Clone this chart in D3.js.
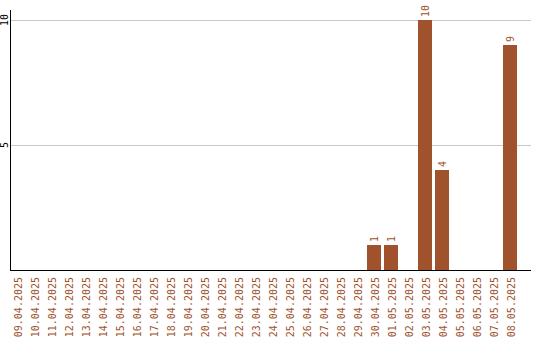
<!DOCTYPE html>
<html>
<head>
<meta charset="utf-8">
<script src="https://cdn.jsdelivr.net/npm/d3@7"></script>
<style>
  body { margin: 0; background: #fff; }
  text { font-family: 'DejaVu Sans Mono', monospace; font-size: 10px; }
</style>
</head>
<body>
<div id="chart"></div>
<script>
const dates = ['09.04.2025', '10.04.2025', '11.04.2025', '12.04.2025', '13.04.2025',
  '14.04.2025', '15.04.2025', '16.04.2025', '17.04.2025', '18.04.2025', '19.04.2025',
  '20.04.2025', '21.04.2025', '22.04.2025', '23.04.2025', '24.04.2025', '25.04.2025',
  '26.04.2025', '27.04.2025', '28.04.2025', '29.04.2025', '30.04.2025', '01.05.2025',
  '02.05.2025', '03.05.2025', '04.05.2025', '05.05.2025', '06.05.2025', '07.05.2025',
  '08.05.2025']
const counts = [0, 0, 0, 0, 0, 0, 0, 0, 0, 0, 0, 0, 0, 0, 0, 0, 0, 0, 0, 0, 0,
  1, 1, 0, 10, 4, 0, 0, 0, 9]
const yTicks = [5, 10]

const width = 540
const height = 340
const color = '#a0522d'

const svg = d3
  .select('#chart')
  .append('svg')
  .attr('width', width)
  .attr('height', height)

const x = d3.scaleBand().domain(dates).range([10, 520]).padding(0)
const y = d3.scaleLinear().domain([0, 10]).range([270, 20])

// grid
svg
  .selectAll('.grid')
  .data(yTicks)
  .enter()
  .append('line')
  .attr('x1', 10)
  .attr('x2', 531)
  .attr('y1', d => Math.round(y(d)) + 0.5)
  .attr('y2', d => Math.round(y(d)) + 0.5)
  .attr('stroke', '#c8c8c8')

svg
  .selectAll('.ytick')
  .data(yTicks)
  .enter()
  .append('text')
  .attr('transform', d => 'translate(8,' + y(d) + ') rotate(-90)')
  .attr('text-anchor', 'middle')
  .attr('fill', '#000')
  .text(d => d)

const data = dates.map((d, i) => ({ date: d, value: counts[i] }))

svg
  .selectAll('.bar')
  .data(data.filter(d => d.value > 0))
  .enter()
  .append('rect')
  .attr('x', d => x(d.date))
  .attr('width', x.bandwidth() - 3)
  .attr('y', d => y(d.value))
  .attr('height', d => y(0) - y(d.value))
  .attr('fill', color)

svg
  .selectAll('.val')
  .data(data.filter(d => d.value > 0))
  .enter()
  .append('text')
  .attr('transform', d => 'translate(' + (x(d.date) + (x.bandwidth() - 3) / 2 + 3.5) + ',' + (y(d.value) - 3) + ') rotate(-90)')
  .attr('fill', color)
  .text(d => d.value)

svg
  .selectAll('.xlab')
  .data(dates)
  .enter()
  .append('text')
  .attr('transform', d => 'translate(' + (x(d) + 11.5) + ',277) rotate(-90)')
  .attr('text-anchor', 'end')
  .attr('fill', color)
  .text(d => d)

// axes
svg.append('line')
  .attr('x1', 10.5).attr('x2', 10.5)
  .attr('y1', 10).attr('y2', 270)
  .attr('stroke', '#000')
svg.append('line')
  .attr('x1', 10).attr('x2', 531)
  .attr('y1', 270.5).attr('y2', 270.5)
  .attr('stroke', '#000')
</script>
</body>
</html>
